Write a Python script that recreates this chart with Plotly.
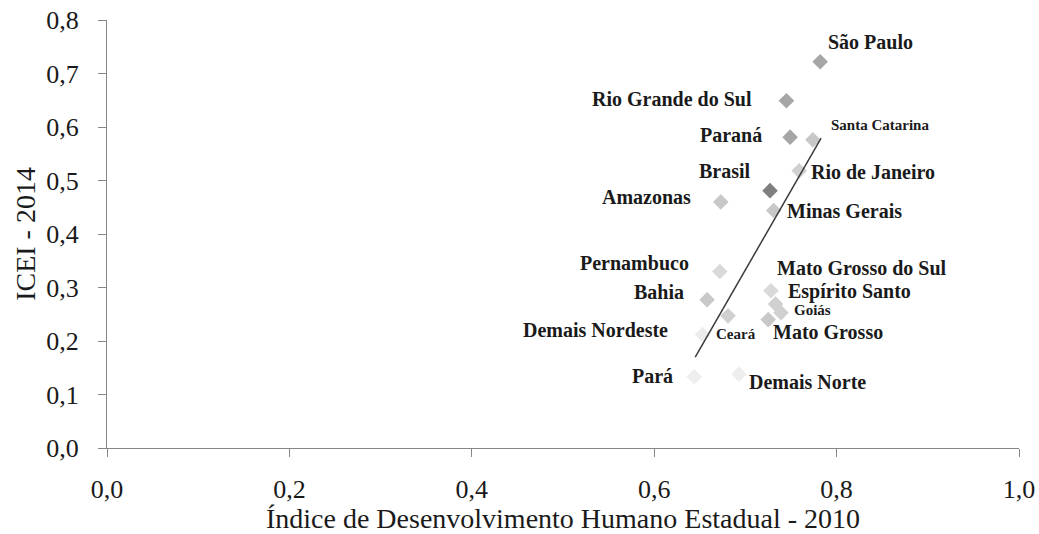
import plotly.graph_objects as go

# state, IDH 2010, ICEI 2014
states = ['São Paulo', 'Rio Grande do Sul', 'Paraná', 'Santa Catarina', 'Rio de Janeiro',
          'Brasil', 'Amazonas', 'Minas Gerais', 'Pernambuco', 'Bahia', 'Demais Nordeste',
          'Ceará', 'Mato Grosso do Sul', 'Espírito Santo', 'Goiás', 'Mato Grosso',
          'Pará', 'Demais Norte']
idh = [0.782, 0.745, 0.749, 0.774, 0.759, 0.727, 0.673, 0.731, 0.672, 0.658, 0.653,
       0.681, 0.728, 0.733, 0.739, 0.725, 0.644, 0.693]
icei = [0.722, 0.649, 0.581, 0.576, 0.518, 0.481, 0.460, 0.444, 0.330, 0.277, 0.212,
        0.247, 0.294, 0.269, 0.253, 0.240, 0.133, 0.138]

trend_x = [0.645, 0.783]
trend_y = [0.170, 0.579]

x_ticks = [0.0, 0.2, 0.4, 0.6, 0.8, 1.0]
y_ticks = [0.0, 0.1, 0.2, 0.3, 0.4, 0.5, 0.6, 0.7, 0.8]

# styling per point
colors = ['#a6a6a6', '#a6a6a6', '#a6a6a6', '#c8c8c8', '#d0d0d0', '#7f7f7f', '#c8c8c8',
          '#c8c8c8', '#d9d9d9', '#c8c8c8', '#ececec', '#d0d0d0', '#d9d9d9', '#d0d0d0',
          '#d0d0d0', '#c8c8c8', '#eeeeee', '#eeeeee']
# (anchor, xshift, yshift, font size)
label_style = {
    'São Paulo': ('left', 7, 20, 20),
    'Rio Grande do Sul': ('right', -33, 2, 20),
    'Paraná': ('right', -27, 2, 20),
    'Santa Catarina': ('left', 17, 15, 15),
    'Rio de Janeiro': ('left', 11, -1, 20),
    'Brasil': ('right', -18, 20, 20),
    'Amazonas': ('right', -29, 5, 20),
    'Minas Gerais': ('left', 12, -1, 20),
    'Pernambuco': ('right', -30, 8, 20),
    'Bahia': ('right', -22, 8, 20),
    'Demais Nordeste': ('right', -34, 5, 20),
    'Ceará': ('left', -13, -18, 15),
    'Mato Grosso do Sul': ('left', 5, 23, 20),
    'Espírito Santo': ('left', 11, 13, 20),
    'Goiás': ('left', 12, 3, 15),
    'Mato Grosso': ('left', 4, -12, 20),
    'Pará': ('right', -20, 1, 20),
    'Demais Norte': ('left', 9, -8, 20),
}

serif = "'Times New Roman', 'Liberation Serif', Times, serif"
axis_col = '#878787'

fig = go.Figure()
fig.add_trace(go.Scatter(
    x=idh, y=icei, mode='markers',
    marker=dict(symbol='diamond', size=12, color=colors, line=dict(width=0)),
    showlegend=False, hovertext=states
))
fig.add_trace(go.Scatter(
    x=trend_x, y=trend_y, mode='lines',
    line=dict(color='#3a3a3a', width=1.5), showlegend=False
))

for name, xv, yv in zip(states, idh, icei):
    anchor, dx, dy, size = label_style[name]
    fig.add_annotation(
        x=xv, y=yv, text=f'<b>{name}</b>', showarrow=False,
        xanchor=anchor, yanchor='middle', xshift=dx, yshift=dy, borderpad=0,
        font=dict(family=serif, size=size, color='#1a1a1a')
    )

fig.update_layout(
    width=1039, height=534,
    margin=dict(l=107, r=20, t=20, b=86),
    plot_bgcolor='#ffffff', paper_bgcolor='#ffffff',
    font=dict(family=serif, color='#1a1a1a'),
)
fig.update_xaxes(
    range=[0, 1], tickvals=x_ticks, automargin=False,
    ticktext=[f'{v:.1f}'.replace('.', ',') for v in x_ticks],
    showgrid=False, zeroline=False, showline=True, linecolor=axis_col, linewidth=1,
    ticks='outside', ticklen=8, tickcolor=axis_col, ticklabelstandoff=10,
    tickfont=dict(family=serif, size=26),
    title=dict(text='Índice de Desenvolvimento Humano Estadual - 2010',
               font=dict(family=serif, size=28), standoff=5)
)
fig.update_yaxes(
    range=[0, 0.8], tickvals=y_ticks, automargin=False,
    ticktext=[f'{v:.1f}'.replace('.', ',') for v in y_ticks],
    showgrid=False, zeroline=False, showline=True, linecolor=axis_col, linewidth=1,
    ticks='outside', ticklen=8, tickcolor=axis_col, ticklabelstandoff=14,
    tickfont=dict(family=serif, size=26),
    title=dict(text='ICEI - 2014', font=dict(family=serif, size=28), standoff=2)
)

# drop the default 8px body margin so the figure fills the window
fig.write_html('out.html', config={'displayModeBar': False},
               post_script="document.body.style.margin='0';")
